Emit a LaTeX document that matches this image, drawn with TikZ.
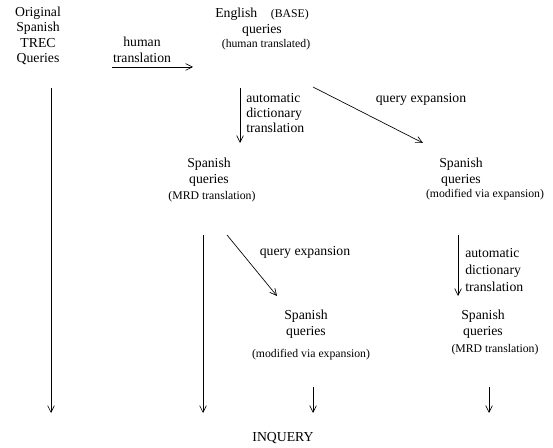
\documentclass[tikz,border=0pt]{standalone}
\usepackage{fontspec}
\setmainfont{Liberation Serif}
\usetikzlibrary{arrows.meta}

\begin{document}
\begin{tikzpicture}[x=0.75pt, y=-0.75pt,
    txt/.style={inner sep=0pt, align=center, font=\fontsize{10.3}{11.6}\selectfont},
    note/.style={inner sep=0pt, font=\fontsize{8.8}{10}\selectfont},
    lbl/.style={inner sep=0pt, align=left, font=\fontsize{10.3}{11.6}\selectfont},
    arr/.style={-{Straight Barb[length=5pt, width=5pt]}, line width=0.5pt}]
    \useasboundingbox (0,0) rectangle (553,448);

    % query sets
    \node[txt] (orig) at (38,36) {Original\\Spanish\\TREC\\Queries};
    \node[txt] (eng) at (262,22) {English\quad{\fontsize{8.8}{10}\selectfont(BASE)}\\queries};
    \node[note] (engnote) at (266,45) {(human translated)};
    \node[txt] (mrd) at (209,172) {Spanish\\queries};
    \node[note] (mrdnote) at (212,197) {(MRD translation)};
    \node[txt] (qex) at (461,172) {Spanish\\queries};
    \node[note] (qexnote) at (485,195) {(modified via expansion)};
    \node[txt] (qex2) at (306,324) {Spanish\\queries};
    \node[note] (qex2note) at (311,355) {(modified via expansion)};
    \node[txt] (mrd2) at (483,324) {Spanish\\queries};
    \node[note] (mrd2note) at (495,350) {(MRD translation)};
    \node[txt] (inq) at (283,438) {INQUERY};

    % arrow labels
    \node[txt] (human) at (142,50) {human\\translation};
    \node[lbl, anchor=west] (dict) at (246,113) {automatic\\dictionary\\translation};
    \node[txt] (expA) at (421,99) {query expansion};
    \node[txt] (expB) at (305,252) {query expansion};
    \node[lbl, anchor=west, font=\fontsize{10.3}{13}\selectfont] (dict2) at (465,270)
        {automatic\\dictionary\\translation};

    % arrow ends
    \coordinate (humanS) at (112,67);   \coordinate (humanE) at (193,67);
    \coordinate (origS) at (51,88);     \coordinate (origE) at (51,413);
    \coordinate (engS) at (240,88);     \coordinate (engE) at (240,143);
    \coordinate (expAS) at (313,87);    \coordinate (expAE) at (423,143);
    \coordinate (mrdS) at (203,235);    \coordinate (mrdE) at (203,413);
    \coordinate (expBS) at (227,235);   \coordinate (expBE) at (277,296);
    \coordinate (dictS) at (458,235);   \coordinate (dictE) at (458,296);
    \coordinate (qexS) at (313,387);    \coordinate (qexE) at (313,413);
    \coordinate (mrd2S) at (489,387);   \coordinate (mrd2E) at (489,413);

    \draw[arr] (humanS) -- (humanE);
    \draw[arr] (origS) -- (origE);
    \draw[arr] (engS) -- (engE);
    \draw[arr] (expAS) -- (expAE);
    \draw[arr] (mrdS) -- (mrdE);
    \draw[arr] (expBS) -- (expBE);
    \draw[arr] (dictS) -- (dictE);
    \draw[arr] (qexS) -- (qexE);
    \draw[arr] (mrd2S) -- (mrd2E);
\end{tikzpicture}
\end{document}
